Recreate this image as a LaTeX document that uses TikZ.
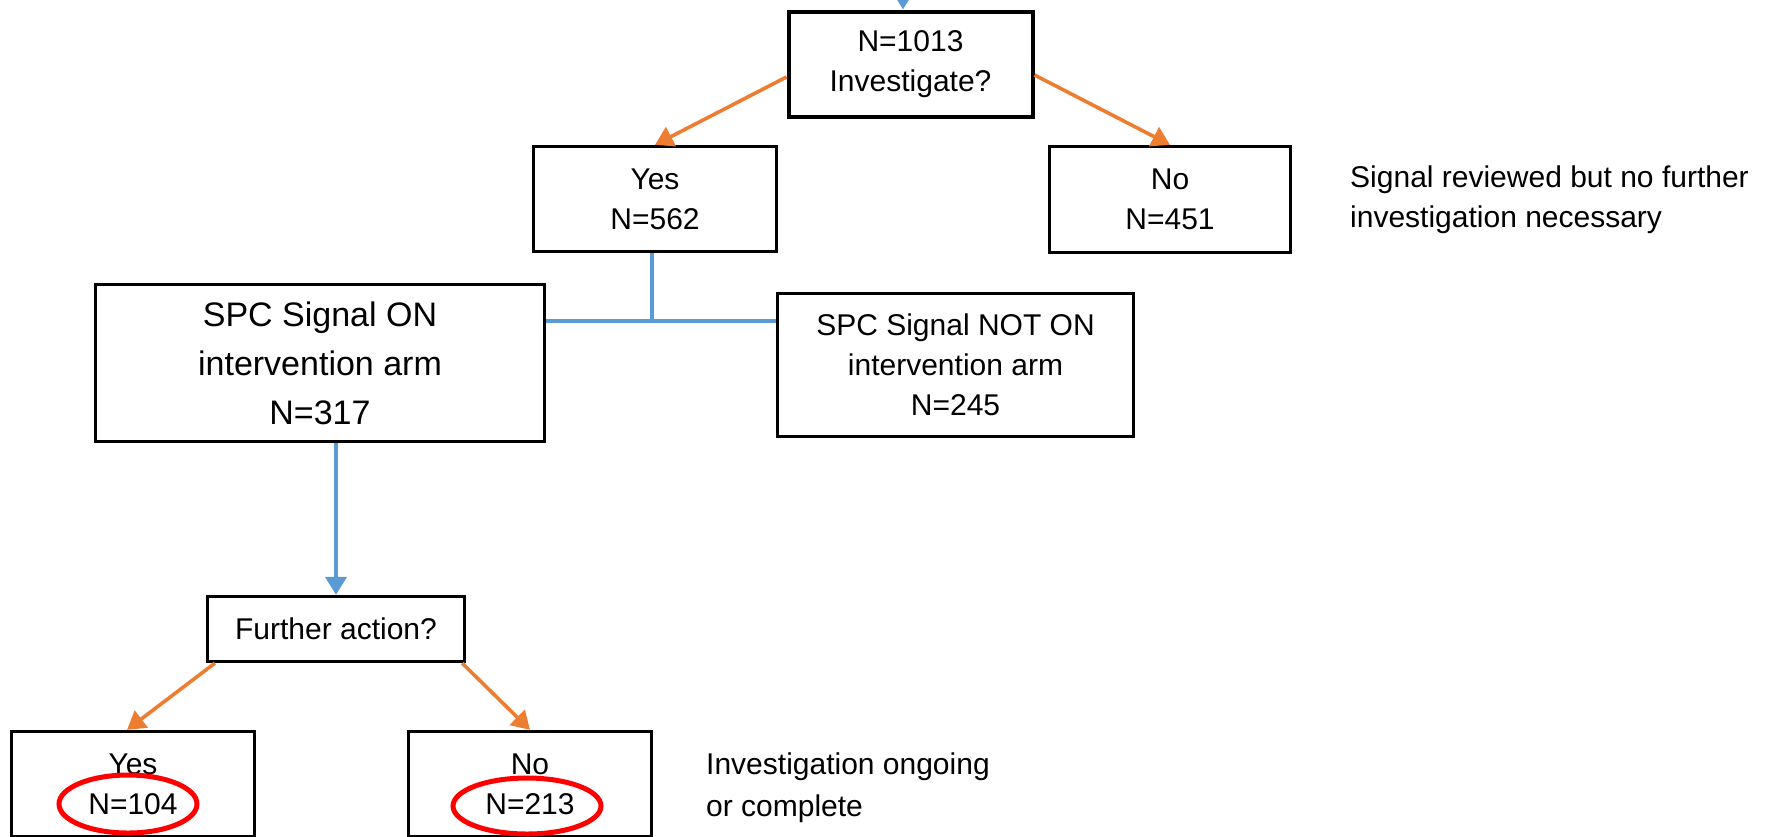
\documentclass[tikz,border=0pt]{standalone}
\usepackage{fontspec}
\setmainfont{Liberation Sans}
\usetikzlibrary{arrows.meta,calc}
\definecolor{offblue}{HTML}{5B9BD5}
\definecolor{offorange}{HTML}{ED7D31}
\definecolor{offred}{HTML}{FF0000}
\begin{document}
\begin{tikzpicture}[x=1pt,y=-1pt,
  box/.style={draw=black, line width=3.3pt, align=center, inner sep=0pt,
    font=\fontsize{30}{40}\selectfont, text=black},
  bigbox/.style={box, line width=2.7pt, font=\fontsize{34}{49}\selectfont},
  note/.style={align=left, inner sep=0pt, anchor=north west,
    font=\fontsize{30}{40}\selectfont, text=black},
  blueline/.style={draw=offblue, line width=4pt},
  bluearrow/.style={blueline, -{Triangle[length=18pt,width=21pt]}},
  orangearrow/.style={draw=offorange, line width=3.6pt, -{Triangle[length=18pt,width=21pt]}},
  ring/.style={draw=offred, line width=5pt}
]
\useasboundingbox (0,0) rectangle (1768,836);

% boxes
\node[box, line width=4pt, minimum width=244pt, minimum height=105pt] (top) at (910.5,64) {N=1013\\Investigate?};
\node[box, minimum width=243pt, minimum height=105pt] (yes1) at (655,199) {Yes\\N=562};
\node[box, minimum width=241pt, minimum height=106pt] (no1) at (1170,199.5) {No\\N=451};
\node[bigbox, minimum width=449pt, minimum height=157pt] (spcon) at (320,363) {SPC Signal ON\\intervention arm\\N=317};
\node[box, minimum width=356pt, minimum height=143pt] (spcnot) at (955.5,365) {SPC Signal NOT ON\\intervention arm\\N=245};
\node[box, minimum width=257pt, minimum height=65pt] (further) at (336,629) {Further action?};
\node[box, minimum width=243pt, minimum height=105pt] (yes2) at (133,784) {Yes\\N=104};
\node[box, minimum width=243pt, minimum height=105pt] (no2) at (530,784) {No\\N=213};

% side notes
\node[note] (note1) at (1350,166) {Signal reviewed but no further\\investigation necessary};
\node[note, font=\fontsize{30}{42}\selectfont] (note2) at (706,753) {Investigation ongoing\\or complete};

% incoming arrow at the top (cut off)
\coordinate (incoming) at (903,-40);
\draw[bluearrow] (incoming) -- (incoming |- top.north);

% orange decision arrows
\draw[orangearrow] ($(top.west)+(0,13)$) -- (yes1.north);
\draw[orangearrow] ($(top.east)+(0,11)$) -- (no1.north);
\draw[orangearrow] ($(further.south west)+(9,0)$) -- ($(yes2.north)+(-6,0)$);
\draw[orangearrow] ($(further.south east)+(-4,0)$) -- (no2.north);

% blue split
\coordinate (split) at ($(yes1.south)+(-3,68)$);
\draw[blueline] ($(yes1.south)+(-3,0)$) -- (split);
\draw[blueline] (spcon.east |- split) -- (spcnot.west |- split);
\draw[bluearrow] (further.north |- spcon.south) -- (further.north);

% red highlight rings
\draw[ring] (128,804) ellipse [x radius=69pt, y radius=29pt];
\draw[ring] (527,806) ellipse [x radius=74pt, y radius=28pt];
\end{tikzpicture}
\end{document}
